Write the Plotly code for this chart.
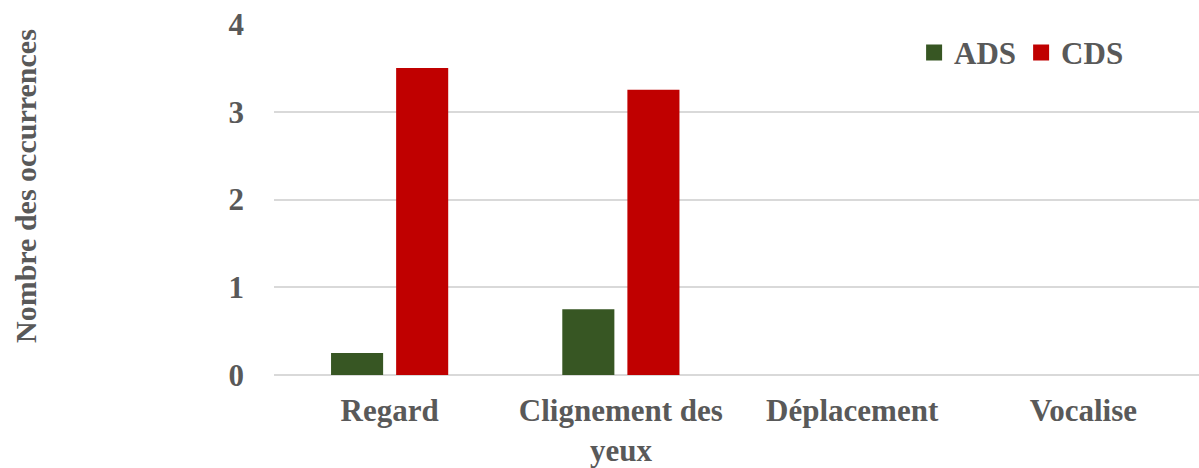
import plotly.graph_objects as go

# Behaviour categories and mean occurrences per condition
categories = ["Regard", "Clignement des<br>yeux", "Déplacement", "Vocalise"]
ads_values = [0.25, 0.75, 0, 0]
cds_values = [3.5, 3.25, 0, 0]
y_ticks = [0, 1, 2, 3, 4]

ADS_COLOR = "#375623"
CDS_COLOR = "#C00000"
TEXT_COLOR = "#595959"
FONT = "Liberation Serif"

fig = go.Figure()
fig.add_trace(go.Bar(x=categories, y=ads_values, name="ADS",
                     marker=dict(color=ADS_COLOR, line=dict(width=0)),
                     showlegend=False))
fig.add_trace(go.Bar(x=categories, y=cds_values, name="CDS",
                     marker=dict(color=CDS_COLOR, line=dict(width=0)),
                     showlegend=False))

# Legend entries with larger square swatches
for name, color in [("ADS", ADS_COLOR), ("CDS", CDS_COLOR)]:
    fig.add_trace(go.Scatter(x=[None], y=[None], mode="markers", name=name,
                             marker=dict(symbol="square", size=16, color=color)))

fig.update_layout(
    width=1199, height=468,
    margin=dict(l=274, r=0, t=24, b=93),
    plot_bgcolor="white", paper_bgcolor="white",
    barmode="group", bargap=0.437, bargroupgap=0.2,
    font=dict(family=FONT, size=31, color=TEXT_COLOR),
    legend=dict(orientation="h", x=0.692, xanchor="left", y=0.995, yanchor="top",
                font=dict(family=FONT, size=31, color=TEXT_COLOR, weight="bold"),
                itemwidth=30, bgcolor="rgba(0,0,0,0)"),
    xaxis=dict(type="category", showgrid=False, showline=False, ticks="",
               ticklabelstandoff=14,
               tickfont=dict(family=FONT, size=31, color=TEXT_COLOR, weight="bold")),
    yaxis=dict(range=[0, 4], tickvals=y_ticks, showgrid=True,
               gridcolor="#D9D9D9", gridwidth=1.5, zeroline=True,
               zerolinecolor="#D9D9D9", zerolinewidth=1.5, showline=False,
               ticks="", ticklabelstandoff=29,
               tickfont=dict(family=FONT, size=31, color=TEXT_COLOR, weight="bold")),
)

fig.add_annotation(text="Nombre des occurrences", xref="paper", yref="paper",
                   x=(25 - 274) / 925, y=(375 - 186) / 351,
                   textangle=-90, showarrow=False, xanchor="center", yanchor="middle",
                   font=dict(family=FONT, size=30, color=TEXT_COLOR, weight="bold"))

fig.write_html("out.html")
